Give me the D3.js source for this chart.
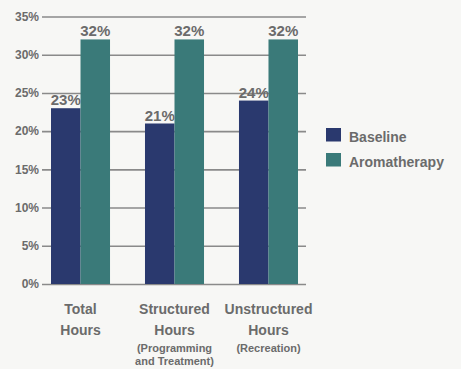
<!DOCTYPE html>
<html>
<head>
<meta charset="utf-8">
<script src="https://cdn.jsdelivr.net/npm/d3@7"></script>
<style>
  body { margin: 0; background: #f7f7f5; }
  text { font-family: "Liberation Sans", Arial, sans-serif; font-weight: bold; fill: #6b6b6b; }
</style>
</head>
<body>
<div id="chart"></div>
<script>
const width = 461;
const height = 369;

// data
const categories = ["Total", "Structured", "Unstructured"];
const catLines = [["Total", "Hours"], ["Structured", "Hours"], ["Unstructured", "Hours"]];
const catNotes = [[], ["(Programming", "and Treatment)"], ["(Recreation)"]];
const seriesNames = ["Baseline", "Aromatherapy"];
const baseline = [23, 21, 24];
const aromatherapy = [32, 32, 32];
const yTicks = [0, 5, 10, 15, 20, 25, 30, 35];
const colors = ["#2a396e", "#3a7a79"];

const rows = categories.map((c, i) => ({ cat: c, values: [baseline[i], aromatherapy[i]] }));

const svg = d3.select("#chart").append("svg")
  .attr("width", width)
  .attr("height", height);

svg.append("rect").attr("width", width).attr("height", height).attr("fill", "#f7f7f5");

let y = d3.scaleLinear()
  .domain([0, 35])
  .range([284, 16.5]);

let x0 = d3.scaleBand()
  .domain(categories)
  .range([51, 298])
  .paddingInner(0.372)
  .paddingOuter(0);

let x1 = d3.scaleBand()
  .domain(seriesNames)
  .range([0, x0.bandwidth()]);

let color = d3.scaleOrdinal().domain(seriesNames).range(colors);

// gridlines + tick labels
const yAxis = svg.append("g")
  .attr("transform", "translate(42,0)")
  .call(d3.axisRight(y).tickValues(yTicks).tickSize(264).tickFormat(d => d + "%"));
yAxis.select(".domain").remove();
yAxis.selectAll(".tick line").attr("stroke", "#8a8a8a").attr("stroke-width", 1.6);
yAxis.selectAll(".tick text")
  .attr("x", -3)
  .attr("text-anchor", "end")
  .attr("font-size", 12)
  .attr("font-family", null);

// bars
const groups = svg.selectAll("g.grp")
  .data(rows).enter()
  .append("g")
  .attr("class", "grp")
  .attr("transform", d => `translate(${x0(d.cat)},0)`);

groups.selectAll("rect")
  .data(d => d.values.map((v, i) => ({ key: seriesNames[i], v })))
  .enter().append("rect")
  .attr("x", d => x1(d.key))
  .attr("y", d => y(d.v))
  .attr("width", x1.bandwidth())
  .attr("height", d => y(0) - y(d.v))
  .attr("fill", d => color(d.key));

groups.selectAll("text.val")
  .data(d => d.values.map((v, i) => ({ key: seriesNames[i], v })))
  .enter().append("text")
  .attr("class", "val")
  .attr("x", d => x1(d.key) + x1.bandwidth() / 2)
  .attr("y", d => y(d.v) - 3)
  .attr("text-anchor", "middle")
  .attr("font-size", 15)
  .text(d => d.v + "%");

// category labels
categories.forEach((c, i) => {
  const cx = x0(c) + x0.bandwidth() / 2;
  catLines[i].forEach((t, j) => {
    svg.append("text")
      .attr("x", cx)
      .attr("y", 314 + j * 21)
      .attr("text-anchor", "middle")
      .attr("font-size", 14)
      .text(t);
  });
  catNotes[i].forEach((t, j) => {
    svg.append("text")
      .attr("x", cx)
      .attr("y", 352 + j * 13)
      .attr("text-anchor", "middle")
      .attr("font-size", 11)
      .text(t);
  });
});

// legend
const legend = svg.selectAll("g.leg")
  .data(seriesNames).enter()
  .append("g")
  .attr("class", "leg")
  .attr("transform", (d, i) => `translate(326,${128 + i * 25})`);

legend.append("rect")
  .attr("width", 15)
  .attr("height", 13.5)
  .attr("fill", d => color(d));

legend.append("text")
  .attr("x", 23)
  .attr("y", 13.5)
  .attr("font-size", 14)
  .text(d => d);
</script>
</body>
</html>
